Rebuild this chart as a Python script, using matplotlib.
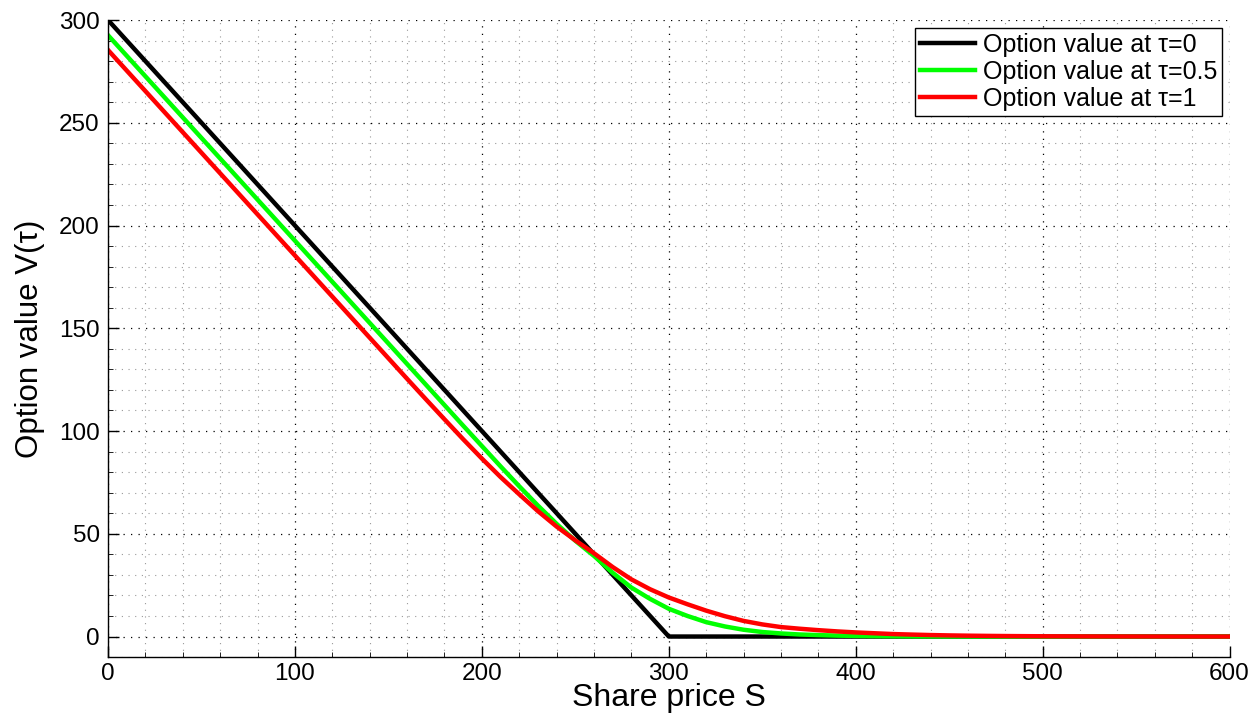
import matplotlib
matplotlib.use("Agg")
import matplotlib.pyplot as plt
from matplotlib.ticker import MultipleLocator

plt.rcParams['font.family'] = ['Liberation Sans', 'DejaVu Sans']

share_price = [0, 10, 20, 30, 40, 50, 60, 70, 80, 90,
               100, 110, 120, 130, 140, 150, 160, 170, 180, 190,
               200, 210, 220, 230, 240, 250, 260, 270, 280, 290,
               300, 310, 320, 330, 340, 350, 360, 370, 380, 390,
               400, 410, 420, 430, 440, 450, 460, 470, 480, 490,
               500, 510, 520, 530, 540, 550, 560, 570, 580, 590, 600]

# put value at expiry (payoff)
value_tau0 = [300, 290, 280, 270, 260, 250, 240, 230, 220, 210,
              200, 190, 180, 170, 160, 150, 140, 130, 120, 110,
              100, 90, 80, 70, 60, 50, 40, 30, 20, 10,
              0, 0, 0, 0, 0, 0, 0, 0, 0, 0,
              0, 0, 0, 0, 0, 0, 0, 0, 0, 0,
              0, 0, 0, 0, 0, 0, 0, 0, 0, 0, 0]

value_tau05 = [292.6, 282.6, 272.6, 262.6, 252.6, 242.6, 232.6, 222.6, 212.6, 202.6,
               192.6, 182.6, 172.6, 162.6, 152.6, 142.6, 132.6, 122.6, 112.6, 102.6,
               92.7, 82.8, 73.1, 63.7, 54.8, 46.6, 39.2, 31.0, 23.8, 18.3,
               13.5, 10.0, 7.0, 4.9, 3.3, 2.2, 1.5, 1.0, 0.7, 0.45,
               0.3, 0.2, 0.12, 0.08, 0.05, 0.03, 0.02, 0.01, 0, 0,
               0, 0, 0, 0, 0, 0, 0, 0, 0, 0, 0]

value_tau1 = [285.4, 275.4, 265.4, 255.4, 245.4, 235.4, 225.4, 215.4, 205.4, 195.4,
              185.4, 175.4, 165.4, 155.4, 145.4, 135.4, 125.4, 115.5, 105.7, 96.0,
              86.6, 77.6, 69.2, 61.0, 53.5, 46.8, 40.5, 33.8, 27.8, 23.0,
              19.0, 15.7, 12.6, 9.9, 7.6, 5.9, 4.6, 3.8, 3.1, 2.5,
              2.0, 1.6, 1.2, 0.95, 0.72, 0.55, 0.42, 0.32, 0.24, 0.18,
              0.13, 0.10, 0.07, 0.05, 0.04, 0.03, 0.02, 0.01, 0.01, 0, 0]

fig = plt.figure(figsize=(12.56, 7.15), dpi=100)
ax = fig.add_axes([0.086, 0.081, 0.893, 0.891])

ax.plot(share_price, value_tau0, color='black', lw=3.2, label='Option value at τ=0')
ax.plot(share_price, value_tau05, color='#00ff00', lw=3.2, label='Option value at τ=0.5')
ax.plot(share_price, value_tau1, color='red', lw=3.2, label='Option value at τ=1')

ax.set_xlim(0, 600)
ax.set_ylim(-10, 300)
ax.xaxis.set_major_locator(MultipleLocator(100))
ax.xaxis.set_minor_locator(MultipleLocator(20))
ax.yaxis.set_major_locator(MultipleLocator(50))
ax.yaxis.set_minor_locator(MultipleLocator(10))

ax.grid(True, which='major', color='black', linestyle=(0, (1, 5)), lw=0.9)
ax.grid(True, which='minor', color='#999999', linestyle=(0, (1, 5)), lw=0.8)
ax.set_axisbelow(True)

for side in ('top', 'right'):
    ax.spines[side].set_visible(False)
ax.spines['left'].set_linewidth(1.0)
ax.spines['bottom'].set_linewidth(1.0)
ax.tick_params(which='major', direction='in', length=8, width=1, labelsize=17.5)
ax.tick_params(axis='x', which='major', pad=4)
ax.tick_params(axis='y', which='major', pad=6)
ax.tick_params(which='minor', direction='in', length=3.5, width=0.6)

ax.set_xlabel('Share price S', fontsize=23, labelpad=-1)
ax.set_ylabel('Option value V(τ)', fontsize=22.5, labelpad=10)

leg = ax.legend(loc='upper right', fontsize=18, fancybox=False, framealpha=1,
                edgecolor='black', handlelength=2.2, borderaxespad=0.3,
                labelspacing=0.12, handletextpad=0.3, borderpad=0.2)
leg.get_frame().set_linewidth(1.0)

fig.savefig('out.png', dpi=100)
